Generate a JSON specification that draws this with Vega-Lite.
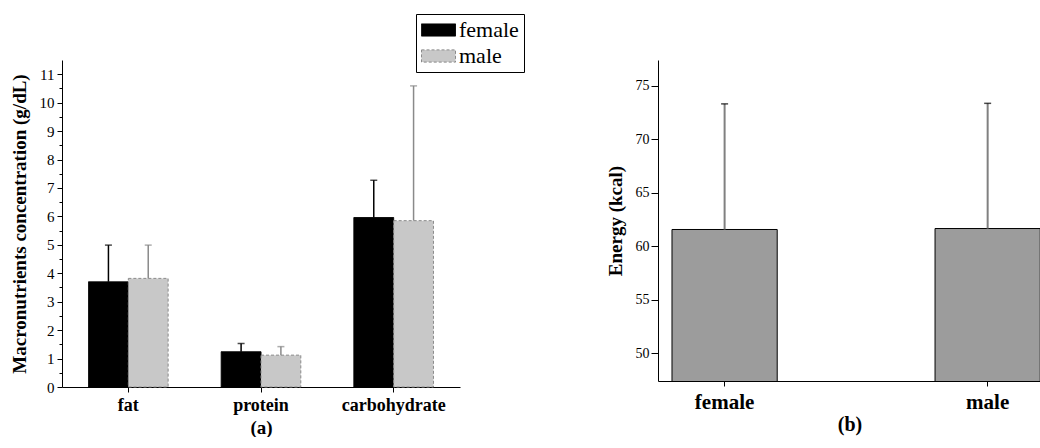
{
  "$schema": "https://vega.github.io/schema/vega-lite/v6.json",
  "padding": {"left": 10, "top": 13, "right": 0, "bottom": 0},
  "background": "white",
  "spacing": 198,
  "bounds": "flush",
  "config": {
    "view": {"stroke": null},
    "font": "Liberation Serif",
    "axis": {
      "grid": false,
      "domainColor": "black",
      "tickColor": "black",
      "labelColor": "black",
      "titleColor": "black",
      "labelFont": "Liberation Serif",
      "titleFont": "Liberation Serif",
      "titleFontWeight": "bold",
      "domainWidth": 1,
      "tickWidth": 1
    }
  },
  "datasets": {
    "macro": [
      {"nutrient": "fat", "sex": "female", "mean": 3.70, "upper": 4.99},
      {"nutrient": "fat", "sex": "male", "mean": 3.82, "upper": 4.99},
      {"nutrient": "protein", "sex": "female", "mean": 1.24, "upper": 1.53},
      {"nutrient": "protein", "sex": "male", "mean": 1.12, "upper": 1.42},
      {"nutrient": "carbohydrate", "sex": "female", "mean": 5.96, "upper": 7.27},
      {"nutrient": "carbohydrate", "sex": "male", "mean": 5.85, "upper": 10.59}
    ],
    "energy": [
      {"sex": "female", "mean": 61.56, "upper": 73.3},
      {"sex": "male", "mean": 61.65, "upper": 73.35}
    ]
  },
  "hconcat": [
    {
      "width": 398,
      "height": 327,
      "data": {"name": "macro"},
      "encoding": {
        "x": {
          "field": "nutrient",
          "type": "nominal",
          "sort": ["fat", "protein", "carbohydrate"],
          "scale": {"paddingInner": 0.4, "paddingOuter": 0.2},
          "axis": {
            "title": "(a)",
            "labelAngle": 0,
            "labelFontSize": 18,
            "labelFontWeight": "bold",
            "labelPadding": 4,
            "tickSize": 5,
            "titleFontSize": 19,
            "titlePadding": 4
          }
        },
        "xOffset": {"field": "sex", "type": "nominal", "sort": ["female", "male"], "scale": {"paddingInner": 0, "paddingOuter": 0}},
        "y": {
          "field": "mean",
          "type": "quantitative",
          "scale": {"domain": [0, 11.5], "nice": false},
          "axis": {
            "title": "Macronutrients concentration (g/dL)",
            "titleFontSize": 19,
            "titlePadding": 10,
            "labelFontSize": 15,
            "labelPadding": 3,
            "labelOverlap": false,
            "values": [0, 0.5, 1, 1.5, 2, 2.5, 3, 3.5, 4, 4.5, 5, 5.5, 6, 6.5, 7, 7.5, 8, 8.5, 9, 9.5, 10, 10.5, 11],
            "labelExpr": "datum.value % 1 == 0 ? format(datum.value, 'd') : ''",
            "tickSize": {"condition": {"test": "datum.value % 1 != 0", "value": 3}, "value": 5}
          }
        }
      },
      "layer": [
        {
          "mark": {"type": "bar", "strokeWidth": 1},
          "encoding": {
            "fill": {
              "field": "sex",
              "type": "nominal",
              "scale": {"domain": ["female", "male"], "range": ["black", "#c8c8c8"]},
              "legend": {
                "orient": "none",
                "legendX": 354,
                "legendY": -46,
                "title": null,
                "labelFont": "Liberation Serif",
                "labelFontSize": 22,
                "labelColor": "black",
                "symbolType": "M-1,-0.36H1V0.36H-1Z",
                "symbolSize": 1156,
                "symbolStrokeWidth": 1,
                "strokeColor": "black",
                "padding": 5,
                "rowPadding": 4,
                "clipHeight": 22,
                "labelOffset": 3
              }
            },
            "stroke": {
              "field": "sex",
              "type": "nominal",
              "scale": {"domain": ["female", "male"], "range": ["black", "#8a8a8a"]}
            },
            "strokeDash": {
              "field": "sex",
              "type": "nominal",
              "scale": {"domain": ["female", "male"], "range": [[1, 0], [3, 2]]}
            }
          }
        },
        {
          "mark": {"type": "rule", "strokeWidth": 1.5},
          "encoding": {
            "y2": {"field": "upper"},
            "stroke": {"field": "sex", "type": "nominal"}
          }
        },
        {
          "mark": {"type": "tick", "orient": "horizontal", "size": 7, "thickness": 1.5},
          "encoding": {
            "y": {"field": "upper", "type": "quantitative"},
            "color": {
              "field": "sex",
              "type": "nominal",
              "scale": {"domain": ["female", "male"], "range": ["black", "#8a8a8a"]},
              "legend": null
            }
          }
        }
      ]
    },
    {
      "width": 383,
      "height": 321,
      "data": {"name": "energy"},
      "encoding": {
        "x": {
          "field": "sex",
          "type": "nominal",
          "sort": ["female", "male"],
          "scale": {"paddingInner": 0.6, "paddingOuter": 0.028, "align": 0.95},
          "axis": {
            "title": "(b)",
            "labelAngle": 0,
            "labelFontSize": 21,
            "labelFontWeight": "bold",
            "labelPadding": 5,
            "tickSize": 5,
            "titleFontSize": 20,
            "titlePadding": 2
          }
        }
      },
      "layer": [
        {
          "mark": {"type": "bar", "fill": "#9c9c9c", "stroke": "black", "strokeWidth": 1, "clip": true},
          "encoding": {
            "y": {
              "field": "mean",
              "type": "quantitative",
              "scale": {"domain": [47.4, 77.4], "nice": false, "zero": false},
              "axis": {
                "title": "Energy (kcal)",
                "titleFontSize": 19,
                "titlePadding": 10,
                "labelFontSize": 14,
                "labelPadding": 2,
                "tickSize": 7,
                "values": [50, 55, 60, 65, 70, 75]
              }
            }
          }
        },
        {
          "mark": {"type": "rule", "stroke": "#808080", "strokeWidth": 2},
          "encoding": {
            "y": {"field": "mean", "type": "quantitative"},
            "y2": {"field": "upper"}
          }
        },
        {
          "mark": {"type": "tick", "orient": "horizontal", "size": 7, "thickness": 1.5, "color": "black"},
          "encoding": {
            "y": {"field": "upper", "type": "quantitative"}
          }
        }
      ]
    }
  ]
}
